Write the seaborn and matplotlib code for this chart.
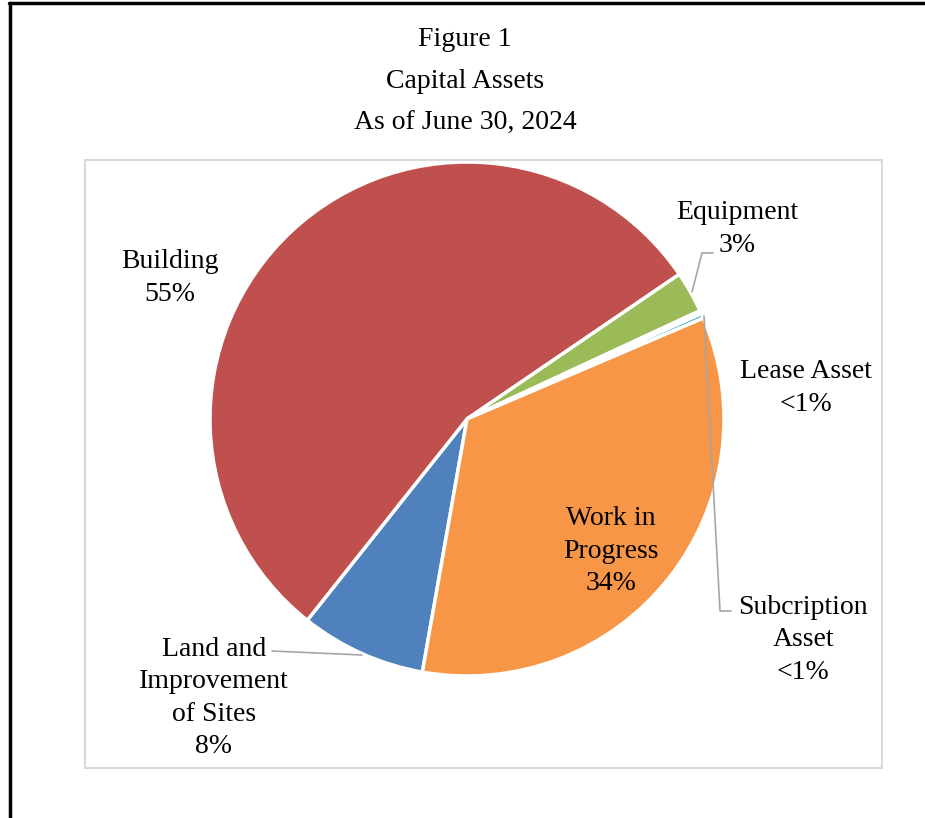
"""Capital assets pie chart (Figure 1)."""
import matplotlib

matplotlib.use("Agg")
import matplotlib.pyplot as plt
import seaborn as sns
from matplotlib.lines import Line2D
from matplotlib.patches import Rectangle

# data
categories = ["Land and\nImprovement\nof Sites", "Building", "Equipment",
              "Lease Asset", "Subcription\nAsset", "Work in\nProgress"]
shares = [7.9, 54.8, 2.6, 0.2, 0.3, 34.2]
pct_labels = ["8%", "55%", "3%", "<1%", "<1%", "34%"]
title_lines = ["Figure 1", "Capital Assets", "As of June 30, 2024"]

colors = ["#4F81BD", "#C0504D", "#9BBB59", "#8064A2", "#4BACC6", "#F79646"]

# layout (pixel positions in the 925x818 canvas)
W, H = 925, 818
label_pos = [(214, 698), (170, 278), (737, 229), (806, 388), (803, 640), (611, 551)]
title_y = [40, 82, 123]
leaders = [
    [(692, 292), (702, 253), (713, 253)],
    [(704, 316), (720, 611), (731, 611)],
    [(272, 651), (362, 655)],
]


def fx(x):
    return x / W


def fy(y):
    return 1 - y / H


sns.set_theme(style="white")
plt.rcParams["font.family"] = ["Liberation Serif", "DejaVu Serif"]
plt.rcParams["text.color"] = "black"

fig = plt.figure(figsize=(W / 100, H / 100), dpi=100)
fig.patch.set_facecolor("white")

# outer frame: top and left edges only
fig.add_artist(Line2D([fx(9), 1], [fy(3), fy(3)], transform=fig.transFigure,
                      color="black", lw=2.5))
fig.add_artist(Line2D([fx(10), fx(10)], [fy(3), 0], transform=fig.transFigure,
                      color="black", lw=2.5))

# chart area border
fig.add_artist(Rectangle((fx(85), fy(768)), fx(882) - fx(85), fy(160) - fy(768),
                         transform=fig.transFigure, fill=False,
                         edgecolor="#D9D9D9", lw=1.5))

cx, cy, r = 467, 419, 257
ax = fig.add_axes([fx(cx - r), fy(cy + r), 2 * r / W, 2 * r / H])
ax.pie(shares, colors=colors, startangle=-100, counterclock=False, radius=1,
       wedgeprops=dict(edgecolor="white", linewidth=2.5))
ax.set_xlim(-1.0, 1.0)
ax.set_ylim(-1.0, 1.0)
ax.set_aspect("equal")
ax.axis("off")

for y, line in zip(title_y, title_lines):
    fig.text(fx(465), fy(y), line, ha="center", va="center", fontsize=20,
             color="black")

for cat, pct, (x, y) in zip(categories, pct_labels, label_pos):
    fig.text(fx(x), fy(y), f"{cat}\n{pct}", ha="center", va="center",
             fontsize=20, linespacing=1.38, multialignment="center",
             color="black")

for pts in leaders:
    xs = [fx(p[0]) for p in pts]
    ys = [fy(p[1]) for p in pts]
    fig.add_artist(Line2D(xs, ys, transform=fig.transFigure, color="#A6A6A6", lw=1.2))

fig.savefig("out.png", dpi=100)
plt.close(fig)
